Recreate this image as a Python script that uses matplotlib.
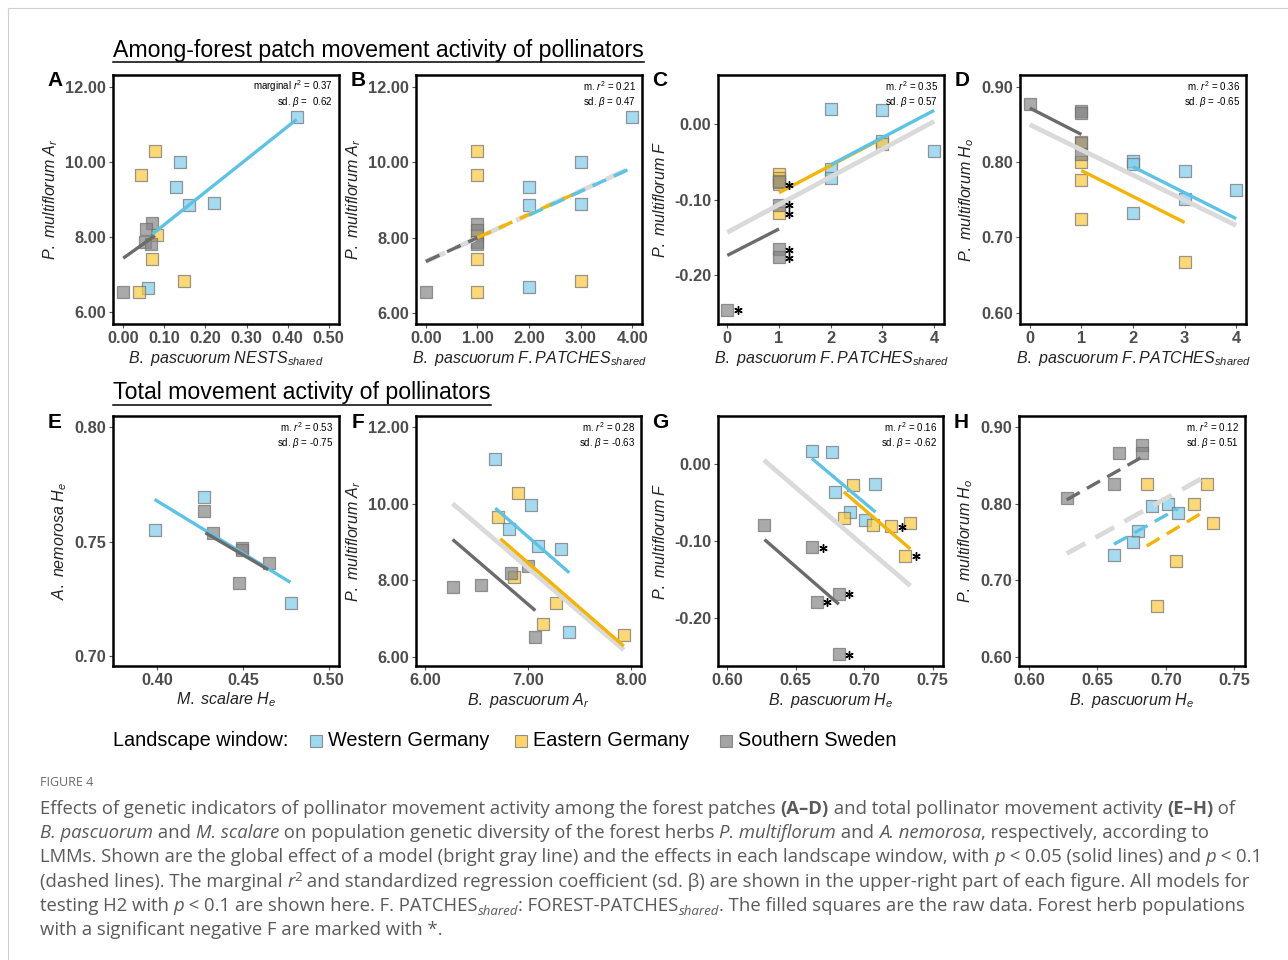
import matplotlib
matplotlib.use("Agg")
import matplotlib.pyplot as plt
from matplotlib.lines import Line2D
from matplotlib.transforms import offset_copy

plt.rcParams['font.family'] = ['Liberation Sans', 'DejaVu Sans']
plt.rcParams['mathtext.fontset'] = 'custom'
plt.rcParams['mathtext.rm'] = 'Liberation Sans'
plt.rcParams['mathtext.it'] = 'Liberation Sans:italic'
plt.rcParams['mathtext.bf'] = 'Liberation Sans:bold'

# group codes: W = Western Germany, E = Eastern Germany, S = Southern Sweden, G = global model
GROUP_NAMES = ["Western Germany", "Eastern Germany", "Southern Sweden"]

# ---- panel A
a_x = [0.422, 0.137, 0.129, 0.159, 0.220, 0.059, 0.077, 0.042, 0.082, 0.071, 0.147, 0.039,
       0.0, 0.071, 0.055, 0.052, 0.067]
a_y = [11.20, 10.00, 9.34, 8.85, 8.90, 6.64, 10.30, 9.65, 8.06, 7.42, 6.84, 6.55,
       6.53, 8.37, 8.21, 7.88, 7.83]
a_grp = "WWWWWWEEEEEESSSSS"
a_fits = [("S", 0.0, 0.077, 7.44, 8.04, "-"), ("W", 0.071, 0.422, 8.08, 11.13, "-")]
a_note = ["marginal $r^2$ = 0.37", r"sd. $\beta$ =  0.62"]

# ---- panel B
b_x = [4, 3, 2, 2, 3, 2, 1, 1, 1, 1, 3, 1, 0, 1, 1, 1, 1]
b_y = [11.20, 10.00, 9.35, 8.86, 8.90, 6.68, 10.30, 9.66, 8.08, 7.43, 6.86, 6.57,
       6.55, 8.37, 8.21, 7.88, 7.83]
b_grp = "WWWWWWEEEEEESSSSS"
b_fits = [("G", 0, 4, 7.37, 9.87, "--"), ("S", 0, 1, 7.37, 8.00, "--"),
          ("E", 1, 3, 8.00, 9.24, "--"), ("W", 2, 4, 8.60, 9.86, "--")]
b_note = ["m. $r^2$ = 0.21", r"sd. $\beta$ = 0.47"]

# ---- panel C
c_x = [2, 3, 4, 2, 2, 3, 1, 1, 1, 1, 3, 1, 1, 1, 1, 1, 0]
c_y = [0.020, 0.018, -0.036, -0.060, -0.071, -0.023, -0.066, -0.072, -0.080, -0.118, -0.027,
       -0.075, -0.077, -0.107, -0.166, -0.176, -0.246]
c_grp = "WWWWWWEEEEEESSSSS"
c_star = [0, 0, 0, 0, 0, 0, 0, 0, 1, 1, 0, 0, 0, 1, 1, 1, 1]
c_fits = [("G", 0, 4, -0.1435, 0.0035, "-"), ("S", 0, 1, -0.174, -0.139, "-"),
          ("E", 1, 3, -0.091, -0.019, "-"), ("W", 2, 4, -0.054, 0.018, "-")]
c_note = ["m. $r^2$ = 0.35", r"sd. $\beta$ = 0.57"]

# ---- panel D
d_x = [2, 2, 2, 3, 3, 4, 1, 1, 1, 1, 3, 0, 1, 1, 1, 1]
d_y = [0.802, 0.798, 0.733, 0.788, 0.751, 0.763, 0.827, 0.801, 0.776, 0.725, 0.667,
       0.877, 0.868, 0.866, 0.826, 0.811]
d_grp = "WWWWWWEEEEESSSSS"
d_fits = [("G", 0, 4, 0.850, 0.716, "-"), ("S", 0, 1, 0.872, 0.837, "-"),
          ("E", 1, 3, 0.789, 0.720, "-"), ("W", 2, 4, 0.794, 0.725, "-")]
d_note = ["m. $r^2$ = 0.36", r"sd. $\beta$ = -0.65"]

# ---- panel E
e_x = [0.3986, 0.4272, 0.4780, 0.4276, 0.4324, 0.4494, 0.4494, 0.4652, 0.4479]
e_y = [0.7551, 0.7695, 0.7233, 0.7636, 0.7539, 0.7474, 0.7462, 0.7408, 0.7318]
e_grp = "WWWSSSSSS"
e_fits = [("W", 0.3986, 0.4777, 0.7685, 0.7322, "-"), ("S", 0.4282, 0.4647, 0.7539, 0.7378, "-")]
e_note = ["m. $r^2$ = 0.53", r"sd. $\beta$ = -0.75"]

# ---- panel F
f_x = [6.674, 7.023, 6.81, 7.10, 7.32, 7.40, 6.90, 6.71, 6.86, 7.27, 7.14, 7.93,
       6.266, 6.545, 6.833, 7.0, 7.063]
f_y = [11.17, 9.97, 9.34, 8.90, 8.83, 6.66, 10.28, 9.65, 8.08, 7.41, 6.85, 6.57,
       7.83, 7.87, 8.20, 8.37, 6.53]
f_grp = "WWWWWWEEEEEESSSSS"
f_fits = [("G", 6.266, 7.93, 10.01, 6.18, "-"), ("S", 6.266, 7.07, 9.07, 7.21, "-"),
          ("E", 6.73, 7.93, 9.09, 6.28, "-"), ("W", 6.68, 7.40, 9.89, 8.20, "-")]
f_note = ["m. $r^2$ = 0.28", r"sd. $\beta$ = -0.63"]

# ---- panel G
g_x = [0.6619, 0.6765, 0.6791, 0.7083, 0.6898, 0.7010, 0.6922, 0.6852, 0.7063, 0.7197, 0.7337,
       0.7299, 0.6269, 0.6621, 0.6816, 0.6655, 0.6816]
g_y = [0.0174, 0.0166, -0.0357, -0.0248, -0.0619, -0.0719, -0.027, -0.0693, -0.0793, -0.0806,
       -0.0763, -0.1185, -0.0793, -0.1076, -0.1678, -0.1782, -0.2462]
g_grp = "WWWWWWEEEEEESSSSS"
g_star = [0, 0, 0, 0, 0, 0, 0, 0, 0, 1, 0, 1, 0, 1, 1, 1, 1]
g_fits = [("G", 0.6269, 0.7337, 0.0057, -0.1577, "-"), ("S", 0.6274, 0.6816, -0.0976, -0.1817, "-"),
          ("E", 0.6852, 0.7337, -0.0357, -0.1098, "-"), ("W", 0.6619, 0.7083, 0.0078, -0.0619, "-")]
g_note = ["m. $r^2$ = 0.16", r"sd. $\beta$ = -0.62"]

# ---- panel H
h_x = [0.6896, 0.7013, 0.7091, 0.6799, 0.6762, 0.6621, 0.6860, 0.7303, 0.7205, 0.7347, 0.7072,
       0.6933, 0.6275, 0.6623, 0.6658, 0.6828, 0.6828]
h_y = [0.7978, 0.800, 0.7877, 0.7640, 0.7503, 0.7332, 0.8255, 0.8255, 0.800, 0.775, 0.7253,
       0.666, 0.8075, 0.8255, 0.8667, 0.8767, 0.8667]
h_grp = "WWWWWWEEEEEESSSSS"
h_fits = [("G", 0.6275, 0.7303, 0.735, 0.8374, "--"), ("S", 0.6275, 0.6828, 0.8053, 0.8615, "--"),
          ("E", 0.686, 0.7291, 0.745, 0.7912, "--"), ("W", 0.6621, 0.7091, 0.7473, 0.7943, "--")]
h_note = ["m. $r^2$ = 0.12", r"sd. $\beta$ = 0.51"]

FILL = {"W": "#7fcdea", "E": "#fbc93a", "S": "#868686"}
LINE = {"W": "#5bc3e6", "E": "#f5b400", "S": "#6b6b6b", "G": "#dadada"}
TICK_COLOR = "#4d4d4d"
CAP_FONT = ["Open Sans", "DejaVu Sans"]

W, H = 1288, 960


def fx(px):
    return px / W


def fy(py):
    return 1 - py / H


def draw_panel(fig, rect, letter, xs, ys, grp, fits, note, xlim, ylim, xticks, yticks,
               xfmt, yfmt, xlabel, ylabel, stars=None):
    left, top, right, bottom = rect
    ax = fig.add_axes([fx(left), fy(bottom), fx(right - left), (bottom - top) / H])

    for code in "WES":
        px = [x for x, g in zip(xs, grp) if g == code]
        py = [y for y, g in zip(ys, grp) if g == code]
        ax.scatter(px, py, marker="s", s=76, c=FILL[code], alpha=0.7,
                   edgecolors="#6f6f6f", linewidths=0.9, zorder=2)

    for code, x0, x1, y0, y1, ls in fits:
        lw = 3.4 if code == "G" else 2.4
        line, = ax.plot([x0, x1], [y0, y1], color=LINE[code], lw=lw, ls=ls,
                        solid_capstyle="butt", zorder=3)
        if ls == "--":
            line.set_dashes((4.5, 2.5))

    if stars is not None:
        # asterisks drawn as markers, shifted right of the square
        sx = [x for x, s in zip(xs, stars) if s]
        sy = [y for y, s in zip(ys, stars) if s]
        tr = offset_copy(ax.transData, fig=fig, x=7.5, y=-0.5, units="points")
        ax.plot(sx, sy, ls="none", marker=(6, 2, 0), ms=6, mew=1.0, color="black",
                transform=tr, zorder=4, clip_on=False)

    ax.set_xlim(*xlim)
    ax.set_ylim(*ylim)
    ax.set_xticks(xticks)
    ax.set_yticks(yticks)
    ax.set_xticklabels([xfmt.format(t) for t in xticks])
    ax.set_yticklabels([yfmt.format(t) for t in yticks])
    ax.tick_params(direction="out", length=3, width=0.8, color="#555555", pad=2,
                   labelsize=11.8, labelcolor=TICK_COLOR)
    for lab in ax.get_xticklabels() + ax.get_yticklabels():
        lab.set_fontweight("bold")
    for sp in ax.spines.values():
        sp.set_linewidth(1.8)
        sp.set_color("black")

    ax.set_xlabel(xlabel, fontsize=11.5, color="#222222", labelpad=2)
    ax.set_ylabel(ylabel, fontsize=11.5, color="#222222", labelpad=4)

    ax.text(0.973, 0.956, note[0], transform=ax.transAxes, ha="right", va="center", fontsize=7)
    ax.text(0.973, 0.892, note[1], transform=ax.transAxes, ha="right", va="center", fontsize=7)

    fig.text(fx(left - 58), fy(top + 6), letter, fontsize=15, fontweight="bold",
             ha="center", va="center")
    return ax


def text_width(fig, r, s, **kw):
    t = fig.text(0, 0, "|" + s + "|", **kw)
    w = t.get_window_extent(r).width
    t.remove()
    t2 = fig.text(0, 0, "||", **kw)
    w2 = t2.get_window_extent(r).width
    t2.remove()
    return w - w2


def draw_runs(fig, r, x_px, y_px, runs, size, color):
    x = x_px
    for s, style in runs:
        kw = dict(fontsize=size, color=color, family=CAP_FONT)
        yy = y_px
        if style == "b":
            kw["fontweight"] = "bold"
        elif style == "i":
            kw["fontstyle"] = "italic"
        elif style == "sub":
            kw["fontstyle"] = "italic"
            kw["fontsize"] = size * 0.72
            yy = y_px + 4
        elif style == "sup":
            kw["fontsize"] = size * 0.72
            yy = y_px - 6
        fig.text(fx(x), fy(yy), s, va="baseline", ha="left", **kw)
        x += text_width(fig, r, s, **kw)


def main():
    fig = plt.figure(figsize=(W / 100, H / 100), dpi=100)
    r = fig.canvas.get_renderer()

    # page frame
    fig.add_artist(Line2D([fx(8), 1], [fy(8), fy(8)], color="#d0d0d0", lw=0.8))
    fig.add_artist(Line2D([fx(8), fx(8)], [fy(8), 0], color="#d0d0d0", lw=0.8))

    ar_ticks = [6, 8, 10, 12]
    fpatch = r"$B.\ pascuorum\ F.PATCHES_{shared}$"

    draw_panel(fig, (113, 75, 339, 324), "A", a_x, a_y, a_grp, a_fits, a_note,
               (-0.025, 0.525), (5.69, 12.31), [0, 0.1, 0.2, 0.3, 0.4, 0.5], ar_ticks,
               "{:.2f}", "{:.2f}", r"$B.\ pascuorum\ NESTS_{shared}$", r"$P.\ multiflorum\ A_{r}$")
    draw_panel(fig, (416, 75, 642, 324), "B", b_x, b_y, b_grp, b_fits, b_note,
               (-0.19, 4.19), (5.71, 12.32), [0, 1, 2, 3, 4], ar_ticks,
               "{:.2f}", "{:.2f}", fpatch, r"$P.\ multiflorum\ A_{r}$")
    draw_panel(fig, (718, 75, 944, 324), "C", c_x, c_y, c_grp, c_fits, c_note,
               (-0.18, 4.19), (-0.2648, 0.0648), [0, 1, 2, 3, 4], [-0.2, -0.1, 0.0],
               "{:d}", "{:.2f}", fpatch, r"$P.\ multiflorum\ F$", stars=c_star)
    draw_panel(fig, (1020, 75, 1246, 324), "D", d_x, d_y, d_grp, d_fits, d_note,
               (-0.19, 4.19), (0.585, 0.916), [0, 1, 2, 3, 4], [0.6, 0.7, 0.8, 0.9],
               "{:d}", "{:.2f}", fpatch, r"$P.\ multiflorum\ H_{o}$")

    draw_panel(fig, (113, 416, 339, 666), "E", e_x, e_y, e_grp, e_fits, e_note,
               (0.3744, 0.506), (0.6956, 0.805), [0.40, 0.45, 0.50], [0.70, 0.75, 0.80],
               "{:.2f}", "{:.2f}", r"$M.\ scalare\ H_{e}$", r"$A.\ nemorosa\ H_{e}$")
    draw_panel(fig, (416, 416, 641, 666), "F", f_x, f_y, f_grp, f_fits, f_note,
               (5.91, 8.097), (5.76, 12.30), [6, 7, 8], ar_ticks,
               "{:.2f}", "{:.2f}", r"$B.\ pascuorum\ A_{r}$", r"$P.\ multiflorum\ A_{r}$")
    draw_panel(fig, (718, 416, 943, 666), "G", g_x, g_y, g_grp, g_fits, g_note,
               (0.5935, 0.7575), (-0.262, 0.063), [0.60, 0.65, 0.70, 0.75], [-0.2, -0.1, 0.0],
               "{:.2f}", "{:.2f}", r"$B.\ pascuorum\ H_{e}$", r"$P.\ multiflorum\ F$", stars=g_star)
    draw_panel(fig, (1019, 416, 1245, 666), "H", h_x, h_y, h_grp, h_fits, h_note,
               (0.5927, 0.7578), (0.588, 0.915), [0.60, 0.65, 0.70, 0.75], [0.6, 0.7, 0.8, 0.9],
               "{:.2f}", "{:.2f}", r"$B.\ pascuorum\ H_{e}$", r"$P.\ multiflorum\ H_{o}$")

    # section titles, underlined
    for title, ypx in [("Among-forest patch movement activity of pollinators", 50),
                       ("Total movement activity of pollinators", 393)]:
        t = fig.text(fx(113), fy(ypx), title, fontsize=16.7, ha="left", va="center")
        bb = t.get_window_extent(r)
        ul = fy(ypx + 12)
        fig.add_artist(Line2D([bb.x0 / W, bb.x1 / W], [ul, ul], color="black", lw=1.1))

    # legend row
    fig.text(fx(113), fy(741), "Landscape window:", fontsize=14.3, ha="left", va="center")
    for name, code, xpx in zip(GROUP_NAMES, "WES", [316, 521, 726]):
        fig.add_artist(Line2D([fx(xpx)], [fy(741)], marker="s", ms=8, ls="none",
                              mfc=FILL[code], alpha=0.75, mec="#6f6f6f", mew=0.8))
        fig.text(fx(xpx + 12), fy(741), name, fontsize=14.3, ha="left", va="center")

    # caption
    fig.text(fx(40), fy(782), "FIGURE 4", fontsize=9, color="#6a6a6a", family=CAP_FONT,
             ha="left", va="center")
    cap_size = 13.3
    cap_color = "#5a5a5a"
    lines = [
        [("Effects of genetic indicators of pollinator movement activity among the forest patches ", ""),
         ("(A\u2013D)", "b"), (" and total pollinator movement activity ", ""), ("(E\u2013H)", "b"),
         (" of", "")],
        [("B. pascuorum", "i"), (" and ", ""), ("M. scalare", "i"),
         (" on population genetic diversity of the forest herbs ", ""), ("P. multiflorum", "i"),
         (" and ", ""), ("A. nemorosa", "i"), (", respectively, according to", "")],
        [("LMMs. Shown are the global effect of a model (bright gray line) and the effects in each "
          "landscape window, with ", ""), ("p", "i"), (" < 0.05 (solid lines) and ", ""),
         ("p", "i"), (" < 0.1", "")],
        [("(dashed lines). The marginal ", ""), ("r", "i"), ("2", "sup"),
         (" and standardized regression coefficient (sd. \u03b2) are shown in the upper-right part "
          "of each figure. All models for", "")],
        [("testing H2 with ", ""), ("p", "i"), (" < 0.1 are shown here. F. PATCHES", ""),
         ("shared", "sub"), (": FOREST-PATCHES", ""), ("shared", "sub"),
         (". The filled squares are the raw data. Forest herb populations", "")],
        [("with a significant negative F are marked with *.", "")],
    ]
    for i, runs in enumerate(lines):
        draw_runs(fig, r, 40, 814 + i * 24.2, runs, cap_size, cap_color)

    fig.savefig("out.png", dpi=100)


if __name__ == "__main__":
    main()
